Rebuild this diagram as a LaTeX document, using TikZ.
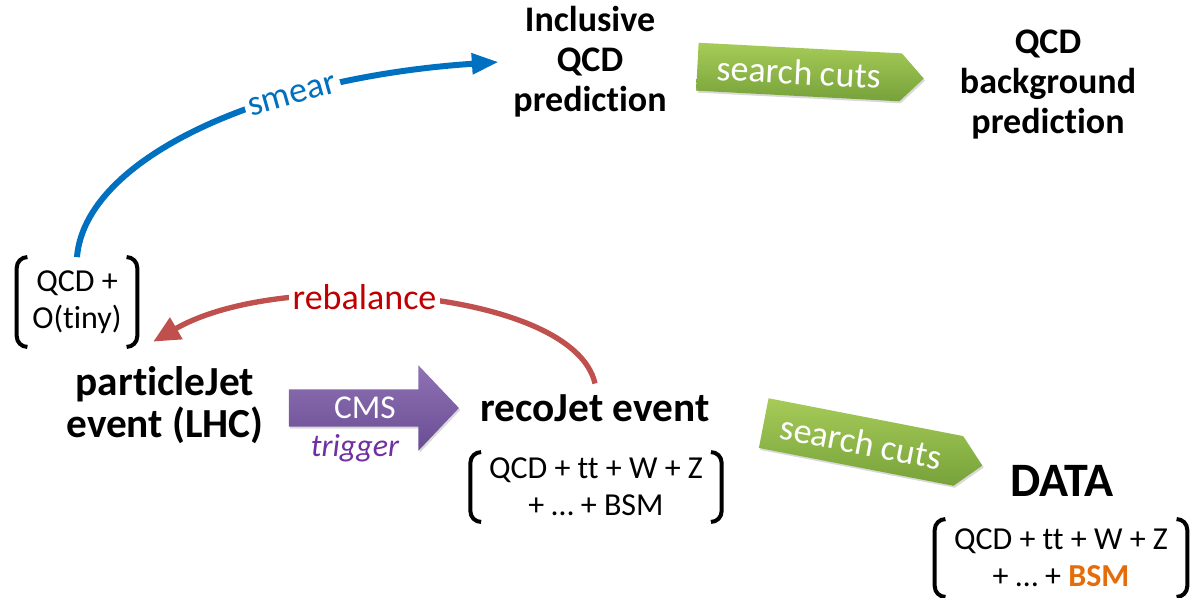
\documentclass[tikz,border=0pt]{standalone}
\usepackage{fontspec}
\setmainfont{Carlito}[Ligatures=NoCommon]
\usetikzlibrary{positioning,arrows.meta,shapes.arrows,shadows}
\definecolor{smearblue}{HTML}{0070C0}
\definecolor{rebred}{HTML}{C0504D}
\definecolor{rebtext}{HTML}{C00000}
\definecolor{cutlight}{HTML}{A6CB58}
\definecolor{cutdark}{HTML}{77A23A}
\definecolor{cmslight}{HTML}{8F72B5}
\definecolor{cmsdark}{HTML}{6A4C93}
\definecolor{trigpurple}{HTML}{7030A0}
\definecolor{bsmorange}{HTML}{E46C0A}

\begin{document}
\begin{tikzpicture}[x=0.75pt,y=-0.75pt,
  every node/.style={inner sep=2pt},
  title/.style={font=\fontsize{27}{30}\selectfont\bfseries,align=center},
  evt/.style={font=\fontsize{31}{31.5}\selectfont\bfseries,align=center},
  proc/.style={font=\fontsize{24}{27.5}\selectfont,align=center},
  cut/.style={single arrow,single arrow head extend=0.01pt,single arrow tip angle=92,
    minimum height=170pt,minimum width=36pt,inner sep=1pt,top color=cutlight,bottom color=cutdark,
    text=white,font=\fontsize{27}{27}\selectfont,drop shadow={opacity=0.3,shadow xshift=1pt,shadow yshift=-1.5pt}},
  cms/.style={single arrow,single arrow head extend=12pt,single arrow tip angle=93,
    minimum height=127.5pt,minimum width=64pt,inner sep=1pt,top color=cmslight,bottom color=cmsdark,
    text=white,font=\fontsize{25}{25}\selectfont,drop shadow={opacity=0.3,shadow xshift=1pt,shadow yshift=-1.5pt}},
  brk/.style={line width=3pt,rounded corners=8pt},
  lbl/.style={fill=white,inner sep=3pt,font=\fontsize{27}{27}\selectfont}]

\useasboundingbox (0,0) rectangle (1195,597);

\node[title] (incl) at (590,62) {Inclusive\\QCD\\prediction};
\node[cut,rotate=-3] (cut1) at (799,72) {search cuts};
\node[title] (bkg) at (1048,85) {QCD\\background\\prediction};

\node[proc,minimum width=90pt,minimum height=67pt] (tiny) at (77,302) {QCD +\\O(tiny)};
\node[evt] (pjet) at (165,405) {particleJet\\event (LHC)};
\node[cms] (cmsarr) at (365,408) {CMS};
\node[font=\fontsize{24}{24}\selectfont\itshape,text=trigpurple] (trig) at (355,448) {trigger};

\node[evt] (reco) at (595,408) {recoJet event};
\node[proc,minimum width=188pt,minimum height=52pt] (recomix) at (596,487) {QCD + tt + W + Z\\+ … + BSM};

\node[cut,rotate=-11,minimum height=167pt,minimum width=38pt] (cut2) at (861,442) {search cuts};
\node[evt,font=\fontsize{36}{36}\selectfont\bfseries] (data) at (1062,481) {DATA};
\node[proc,minimum width=189pt,minimum height=58pt] (datamix) at (1061,558) {QCD + tt + W + Z\\+ … + \textcolor{bsmorange}{\bfseries BSM}};

% brackets round the process lists
\foreach \n in {tiny,recomix,datamix}{
  \draw[brk] ([xshift=8pt]\n.north west) -- (\n.north west) -- (\n.south west) -- ([xshift=8pt]\n.south west);
  \draw[brk] ([xshift=-8pt]\n.north east) -- (\n.north east) -- (\n.south east) -- ([xshift=-8pt]\n.south east);
}

\draw[smearblue,line width=4.5pt,-{Triangle[length=20pt,width=15pt]}]
  (tiny.north) .. controls +(8,-98) and +(-238,16) .. ([xshift=-9pt]incl.west)
  node[lbl,pos=0.68,sloped,text=smearblue] (smear) {smear};
\draw[rebred,line width=4pt,-{Triangle[length=20pt,width=18pt]}]
  ([yshift=6pt]reco.north) .. controls +(-21,-93) and +(130,-75) .. ([xshift=12pt,yshift=4pt]tiny.south east)
  node[lbl,pos=0.59,text=rebtext] (rebal) {rebalance};
\end{tikzpicture}
\end{document}
